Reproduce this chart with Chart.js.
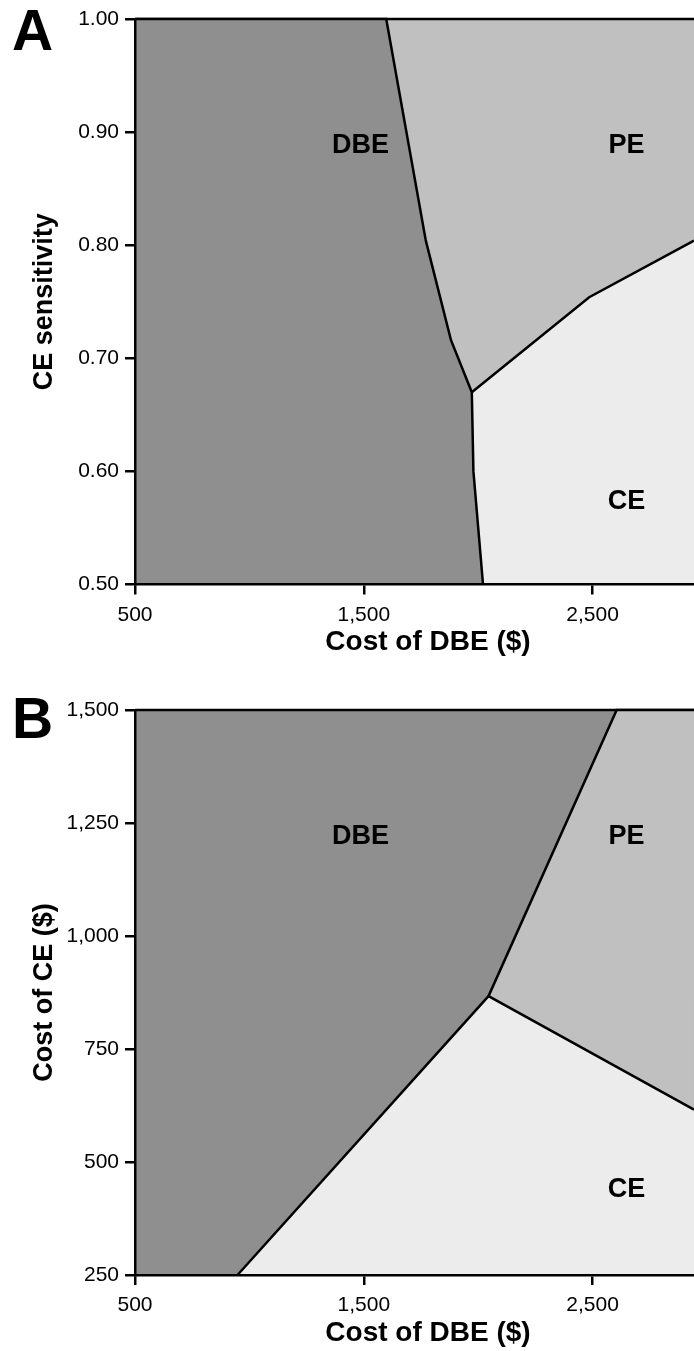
<!DOCTYPE html>
<html>
<head>
<meta charset="utf-8">
<script src="https://cdn.jsdelivr.net/npm/chart.js@4/dist/chart.umd.min.js"></script>
<style>
    html, body { margin: 0; background: #fff; width: 694px; height: 1351px; overflow: hidden; }
    canvas { display: block; }
</style>
</head>
<body>
<!-- the original figure is cropped on the right, so the canvases run past the window -->
<canvas id="panelA" width="721" height="691"></canvas>
<canvas id="panelB" width="721" height="660"></canvas>
<script>
// Shared x axis (cost of DBE, $)
const xMin = 500;
const xMax = 3061;
const xTicks = [500, 1500, 2500];

// Panel A: CE sensitivity vs cost of DBE
const aYTicks = [0.50, 0.60, 0.70, 0.80, 0.90, 1.00];
const aDbeEdgeX = [500, 1598, 1771, 1881, 1972, 1979, 2021];
const aDbeEdgeY = [1.00, 1.00, 0.804, 0.716, 0.670, 0.600, 0.50];
const aCeEdgeX = [1972, 2485, 2943];
const aCeEdgeY = [0.670, 0.754, 0.804];
const aRegionNames = ['DBE', 'PE', 'CE'];
const aRegionX = [1485, 2648, 2648];
const aRegionY = [0.888, 0.888, 0.573];

// Panel B: cost of CE vs cost of DBE
const bYTicks = [250, 500, 750, 1000, 1250, 1500];
const bPeEdgeX = [2045, 2605, 2943];
const bPeEdgeY = [867, 1500, 1500];
const bCeEdgeX = [948, 2045, 2943];
const bCeEdgeY = [250, 867, 616];
const bRegionNames = ['DBE', 'PE', 'CE'];
const bRegionX = [1485, 2648, 2648];
const bRegionY = [1220, 1220, 438];

const DBE_COLOR = '#8f8f8f';
const PE_COLOR = '#c0c0c0';
const CE_COLOR = '#ececec';
const FONT = '"Liberation Sans", Arial, Helvetica, sans-serif';

function points(xs, ys) {
    return xs.map((x, i) => ({ x, y: ys[i] }));
}

function region(data, color, order) {
    return {
        data,
        order,
        showLine: true,
        fill: 'start',
        backgroundColor: color,
        borderColor: '#000',
        borderWidth: 2.5,
        pointRadius: 0,
        tension: 0,
        clip: false
    };
}

function labelsPlugin(letter, letterBaseline, names, xs, ys) {
    return {
        id: 'regionLabels',
        afterDatasetsDraw(chart) {
            const ctx = chart.ctx;
            const { x, y } = chart.scales;
            ctx.save();
            ctx.fillStyle = '#000';
            ctx.font = `bold 27px ${FONT}`;
            ctx.textAlign = 'center';
            ctx.textBaseline = 'middle';
            names.forEach((name, i) => {
                ctx.fillText(name, x.getPixelForValue(xs[i]), y.getPixelForValue(ys[i]));
            });
            ctx.font = `bold 57px ${FONT}`;
            ctx.textAlign = 'left';
            ctx.textBaseline = 'alphabetic';
            ctx.fillText(letter, 12, letterBaseline);
            ctx.restore();
        }
    };
}

// axis line and ticks go over the filled regions (z: 1) so the frame keeps its full width
function axisLine() {
    return {
        grid: { display: true, drawOnChartArea: false, drawTicks: true, tickLength: 10, color: '#000', lineWidth: 2.5, z: 1 },
        border: { display: true, color: '#000', width: 2.5, z: 1 }
    };
}

function makePanel(canvasId, yTicks, yFormat, yTitle, datasets, plotBottom, titleBottomPad, plugin) {
    const canvas = document.getElementById(canvasId);
    const axisHeight = canvas.height - plotBottom;
    return new Chart(canvas, {
        type: 'scatter',
        data: { datasets },
        options: {
            responsive: false,
            animation: false,
            devicePixelRatio: 1,
            layout: { padding: { top: 19, left: 0, right: 0, bottom: 0 } },
            plugins: { legend: { display: false }, tooltip: { enabled: false } },
            scales: {
                x: {
                    type: 'linear',
                    min: xMin,
                    max: xMax,
                    afterBuildTicks: axis => { axis.ticks = xTicks.map(v => ({ value: v })); },
                    afterFit: axis => { axis.height = axisHeight; },
                    ticks: {
                        color: '#000',
                        font: { family: FONT, size: 21 },
                        padding: 8,
                        maxRotation: 0,
                        callback: v => v.toLocaleString('en-US')
                    },
                    title: {
                        display: true,
                        text: 'Cost of DBE ($)',
                        color: '#000',
                        font: { family: FONT, size: 28, weight: 'bold' },
                        padding: { top: 0, bottom: titleBottomPad }
                    },
                    ...axisLine()
                },
                y: {
                    type: 'linear',
                    min: yTicks[0],
                    max: yTicks[yTicks.length - 1],
                    afterBuildTicks: axis => { axis.ticks = yTicks.map(v => ({ value: v })); },
                    afterFit: axis => { axis.width = 135; },
                    ticks: {
                        color: '#000',
                        font: { family: FONT, size: 21 },
                        padding: 6,
                        callback: yFormat
                    },
                    title: {
                        display: true,
                        text: yTitle,
                        color: '#000',
                        font: { family: FONT, size: 27, weight: 'bold' },
                        padding: { top: 28, bottom: 0 }
                    },
                    ...axisLine()
                }
            }
        },
        plugins: [plugin]
    });
}

// Panel A: PE underneath, then CE, DBE on top
makePanel('panelA', aYTicks, v => v.toFixed(2), 'CE sensitivity', [
    region(points(aDbeEdgeX, aDbeEdgeY), DBE_COLOR, 1),
    region(points(aCeEdgeX, aCeEdgeY), CE_COLOR, 2),
    region(points([xMin, xMax], [1.00, 1.00]), PE_COLOR, 3)
], 584.5, 32, labelsPlugin('A', 50, aRegionNames, aRegionX, aRegionY));

// Panel B: DBE underneath, then PE, CE on top
makePanel('panelB', bYTicks, v => v.toLocaleString('en-US'), 'Cost of CE ($)', [
    region(points(bCeEdgeX, bCeEdgeY), CE_COLOR, 1),
    region(points(bPeEdgeX, bPeEdgeY), PE_COLOR, 2),
    region(points([xMin, xMax], [1500, 1500]), DBE_COLOR, 3)
], 584, 1, labelsPlugin('B', 47, bRegionNames, bRegionX, bRegionY));
</script>
</body>
</html>
